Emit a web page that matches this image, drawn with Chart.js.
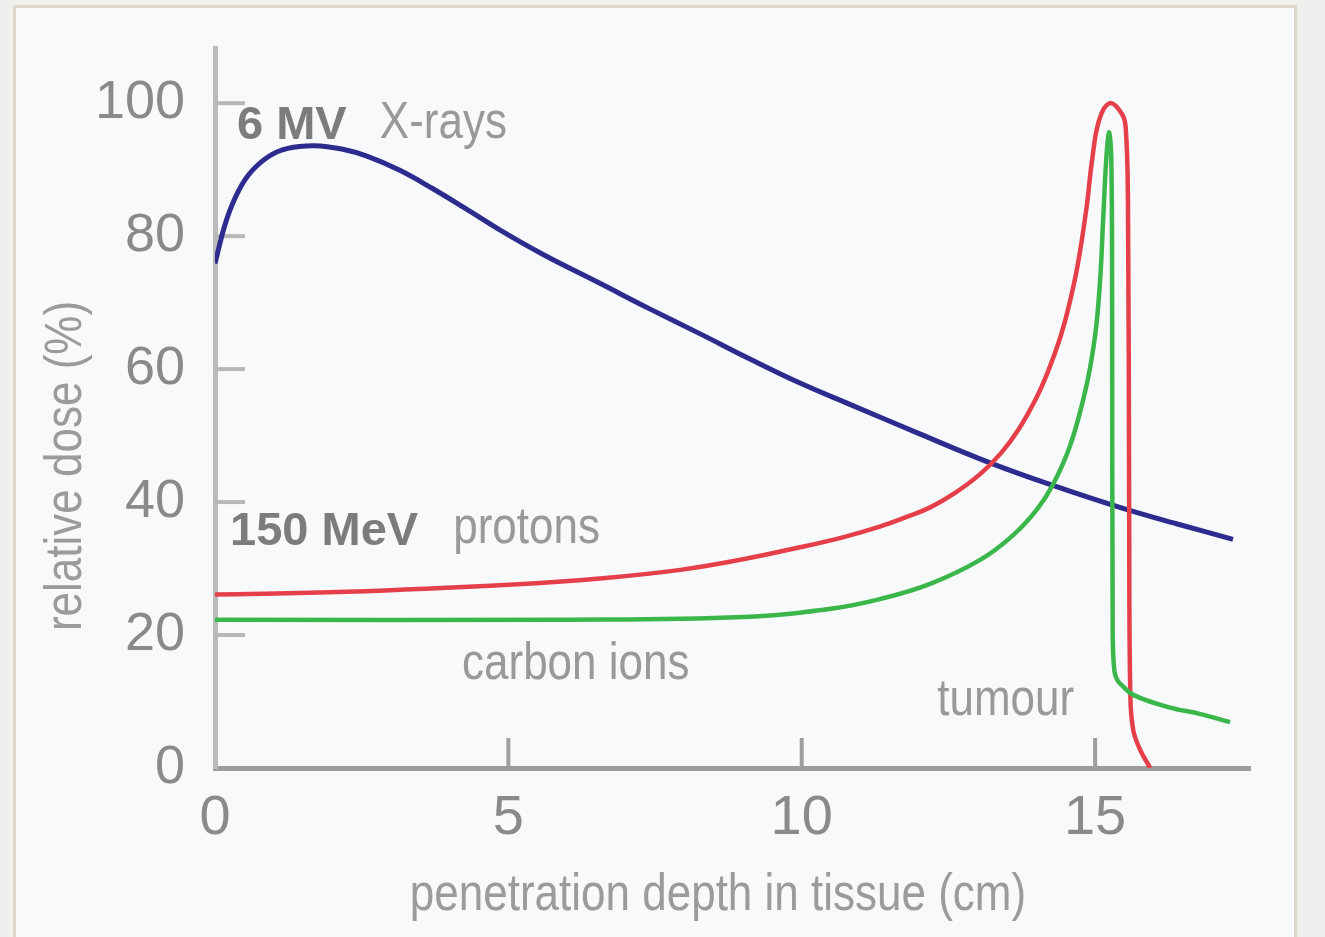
<!DOCTYPE html>
<html>
<head>
<meta charset="utf-8">
<script src="https://cdn.jsdelivr.net/npm/chart.js@4.4.1/dist/chart.umd.min.js"></script>
<style>
html, body { margin: 0; padding: 0; background: #efefed; overflow: hidden; }
#panel { position: absolute; left: 13px; top: 5px; width: 1278px; height: 940px; border: 3px solid #dcd9ca; background: #f8f9fb; }
#chart { position: absolute; left: 0; top: 0; }
</style>
</head>
<body>
<div id="panel"></div>
<canvas id="chart" width="1325" height="937"></canvas>
<script>
// depth (cm) / relative dose (%)
const xrayX = [0, 0.17, 0.34, 0.57, 0.9, 1.24, 1.7, 2.16, 2.6, 3.15, 3.7, 4.26, 4.86, 5.6, 6.56, 7.4, 8.27, 9.1, 9.97, 10.82, 12, 13.21, 14.28, 15.42, 16.4, 17.35];
const xrayY = [75.9, 81.7, 85.7, 89.2, 91.9, 93.2, 93.6, 93.1, 92.0, 89.9, 87.2, 84.2, 80.9, 77.2, 72.9, 69.1, 65.3, 61.6, 57.9, 54.7, 50.3, 45.9, 42.5, 39.2, 36.7, 34.4];

const protonX = [0, 2.25, 5.08, 6.56, 7.93, 9.0, 9.97, 10.7, 11.33, 11.8, 12.19, 12.6, 13.04, 13.4, 13.7, 14.0, 14.2, 14.4, 14.55, 14.7, 14.85, 14.95, 15.07, 15.25, 15.45, 15.52, 15.56, 15.58, 15.6, 15.65, 15.77, 15.94];
const protonY = [26.1, 26.5, 27.6, 28.5, 29.8, 31.4, 33.2, 34.7, 36.3, 37.8, 39.2, 41.3, 44.2, 47.4, 51.0, 55.7, 59.7, 64.6, 69.4, 75.5, 84, 91.5, 97.5, 100, 98.5, 96.5, 85, 40, 11, 5.7, 2.7, 0];

const carbonX = [0, 6, 9, 10.53, 11.33, 12.19, 13.04, 13.6, 14.01, 14.28, 14.57, 14.8, 14.92, 15.02, 15.09, 15.14, 15.19, 15.235, 15.275, 15.29, 15.3, 15.33, 15.38, 15.45, 15.65, 16.23, 16.8, 17.3];
const carbonY = [22.3, 22.3, 22.7, 24.0, 25.4, 27.7, 31.3, 35.0, 38.9, 42.6, 48.4, 55.5, 60.5, 66.5, 74, 83, 91.5, 95.6, 92, 70, 20, 14.5, 13.2, 12.5, 11, 9.2, 8.1, 6.9];

const xTicks = [0, 5, 10, 15];
const yTicks = [0, 20, 40, 60, 80, 100];

// text labels inside the plot
const labelText = ['6 MV', 'X-rays', '150 MeV', 'protons', 'carbon ions', 'tumour'];
const labelX = [0.375, 2.81, 0.256, 4.06, 4.21, 12.31];
const labelY = [94.6, 94.7, 33.5, 33.8, 13.4, 8.0];
const labelBold = [true, false, true, false, false, false];

const FONT = '"Liberation Sans", Arial, sans-serif';

function toPoints(xs, ys) {
    return xs.map((x, i) => ({ x: x, y: ys[i] }));
}

// ticks inside the axes, labels and axis titles
const extras = {
    id: 'extras',
    beforeDatasetsDraw(chart) {
        const ctx = chart.ctx;
        const sx = chart.scales.x, sy = chart.scales.y;
        ctx.save();
        ctx.lineWidth = 4;
        ctx.strokeStyle = '#b7b7b7';
        yTicks.forEach(v => {
            if (v === 0) return;
            const p = sy.getPixelForValue(v);
            ctx.beginPath();
            ctx.moveTo(sx.left, p);
            ctx.lineTo(sx.left + 30, p);
            ctx.stroke();
        });
        ctx.strokeStyle = '#9e9e9e';
        xTicks.forEach(v => {
            if (v === 0) return;
            const p = sx.getPixelForValue(v);
            ctx.beginPath();
            ctx.moveTo(p, sy.bottom);
            ctx.lineTo(p, sy.bottom - 30);
            ctx.stroke();
        });
        ctx.restore();
    },
    afterDraw(chart) {
        const ctx = chart.ctx;
        const sx = chart.scales.x, sy = chart.scales.y;
        ctx.save();
        ctx.textAlign = 'left';
        ctx.textBaseline = 'alphabetic';
        labelText.forEach((t, i) => {
            ctx.save();
            ctx.translate(sx.getPixelForValue(labelX[i]), sy.getPixelForValue(labelY[i]));
            if (labelBold[i]) {
                ctx.font = 'bold 47px ' + FONT;
                ctx.fillStyle = '#7c7c7c';
            } else {
                ctx.scale(1, 1.18);
                ctx.font = '44px ' + FONT;
                ctx.fillStyle = '#999999';
            }
            ctx.fillText(t, 0, 0);
            ctx.restore();
        });

        // axis titles
        ctx.font = '44px ' + FONT;
        ctx.fillStyle = '#9b9b9b';
        ctx.textAlign = 'center';
        ctx.save();
        ctx.translate(718, 910);
        ctx.scale(1, 1.18);
        ctx.fillText('penetration depth in tissue (cm)', 0, 0);
        ctx.restore();

        ctx.save();
        ctx.translate(67, 466);
        ctx.rotate(-Math.PI / 2);
        ctx.scale(1, 1.18);
        ctx.textBaseline = 'middle';
        ctx.fillText('relative dose (%)', 0, 0);
        ctx.restore();
        ctx.restore();
    }
};

new Chart(document.getElementById('chart'), {
    type: 'line',
    data: {
        datasets: [
            {
                label: 'X-rays',
                data: toPoints(xrayX, xrayY),
                borderColor: '#2b2c8e',
                borderWidth: 5,
                order: 3
            },
            {
                label: 'protons',
                data: toPoints(protonX, protonY),
                borderColor: '#e5404a',
                borderWidth: 4.5,
                order: 2
            },
            {
                label: 'carbon ions',
                data: toPoints(carbonX, carbonY),
                borderColor: '#3bb64a',
                borderWidth: 4.5,
                order: 1
            }
        ]
    },
    options: {
        responsive: false,
        animation: false,
        devicePixelRatio: 1,
        layout: { padding: { left: 0, top: 48, right: 75, bottom: 0 } },
        elements: {
            point: { radius: 0 },
            line: { tension: 0.4, fill: false }
        },
        plugins: {
            legend: { display: false },
            tooltip: { enabled: false }
        },
        scales: {
            x: {
                type: 'linear',
                min: 0,
                max: 17.64,
                afterFit(s) { s.height = 169; },
                afterBuildTicks(s) { s.ticks = xTicks.map(v => ({ value: v })); },
                grid: { display: false, drawTicks: false },
                border: { display: true, color: '#9c9c9c', width: 5 },
                ticks: {
                    autoSkip: false,
                    maxRotation: 0,
                    padding: 17,
                    color: '#8a8a8a',
                    font: { size: 56, family: FONT }
                }
            },
            y: {
                type: 'linear',
                min: 0,
                max: 108.3,
                afterFit(s) { s.width = 215; },
                afterBuildTicks(s) { s.ticks = yTicks.map(v => ({ value: v })); },
                grid: { display: false, drawTicks: false },
                border: { display: true, color: '#bbbbbb', width: 5 },
                ticks: {
                    padding: 30,
                    color: '#8a8a8a',
                    font: { size: 54, family: FONT, lineHeight: 0.5 }
                }
            }
        }
    },
    plugins: [extras]
});
</script>
</body>
</html>
